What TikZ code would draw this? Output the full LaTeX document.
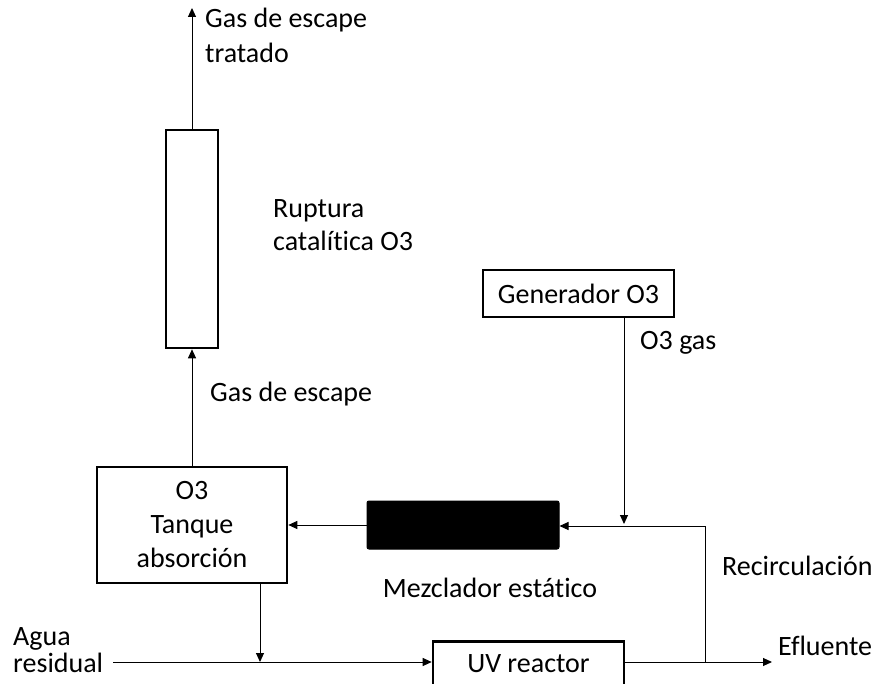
\documentclass[tikz,border=0pt]{standalone}
\usepackage{fontspec}
\setmainfont{Carlito}[Ligatures=CommonOff]
\usetikzlibrary{arrows.meta}
\begin{document}
\begin{tikzpicture}[x=1pt,y=-1pt,
  every node/.style={font=\fontsize{28}{34}\selectfont, inner sep=0pt},
  box/.style={draw, line width=2.6pt, rectangle},
  conn/.style={line width=1pt, -{Triangle[length=9pt,width=8pt]}},
  lbl/.style={anchor=base west}]
\useasboundingbox (0,0) rectangle (878,684);
\clip (0,0) rectangle (878,684);
% boxes
\node[box, minimum width=52pt, minimum height=218pt] (col) at (192,239) {};
\node[box, minimum width=191pt, minimum height=47pt] (gen) at (578.5,293.5) {Generador O3};
\node[box, minimum width=190pt, minimum height=116pt, align=center] (tank) at (192,525) {O3\\Tanque\\absorción};
\node[draw, fill=black, rounded corners=2pt, line width=1pt, minimum width=192pt, minimum height=48pt] (mix) at (463,525) {};
\node[box, minimum width=191pt, minimum height=80pt, anchor=north] (uv) at (528.5,640) {};
\node[anchor=base] (uvt) at (528.5,672) {UV reactor};
% coordinates
\coordinate (top) at (192,8);
\coordinate (gdrop) at (624,524);
\coordinate (rtop) at (705,526);
\coordinate (rbot) at (705,662);
\coordinate (tdrop) at (260,662);
\coordinate (agua) at (113,662);
\coordinate (eff) at (772,662);
% connectors
\draw[conn] (col.north) -- (top);
\draw[conn] (tank.north) -- (col.south);
\draw[conn] (gen.south -| gdrop) -- (gdrop);
\draw[conn] (rbot) -- (rtop) -- (mix.east |- rtop);
\draw[conn] (mix.west) -- (tank.east);
\draw[conn] (tank.south -| tdrop) -- (tdrop);
\draw[conn] (agua) -- (agua -| uv.west);
\draw[conn] (agua -| uv.east) -- (eff);
% labels
\node[lbl] (l1) at (205,28) {Gas de escape};
\node[lbl] (l2) at (205,63) {tratado};
\node[lbl] (l3) at (273,218) {Ruptura};
\node[lbl] (l4) at (273,251) {catalítica O3};
\node[lbl] (l5) at (640,350) {O3 gas};
\node[lbl] (l6) at (210,401) {Gas de escape};
\node[anchor=base] (l7) at (490,597) {Mezclador estático};
\node[lbl] (l8) at (722,575) {Recirculación};
\node[lbl] (l9) at (778,655) {Efluente};
\node[lbl] (l10) at (13,645) {Agua};
\node[lbl] (l11) at (13,672) {residual};
\end{tikzpicture}
\end{document}
